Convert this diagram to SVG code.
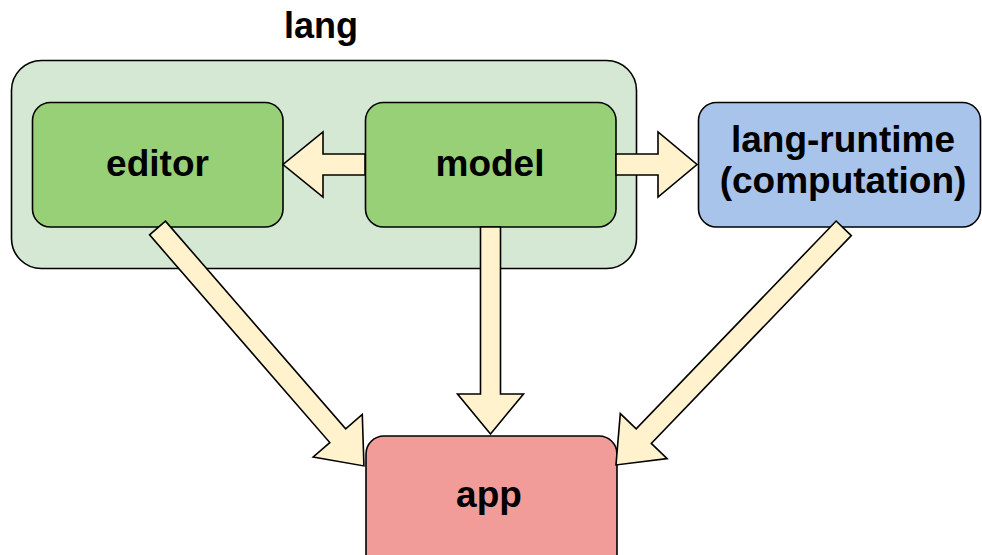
<svg xmlns="http://www.w3.org/2000/svg" width="982" height="555" viewBox="0 0 982 555">
<style>
.box{stroke:#000;stroke-width:1.6}
.lbl{font-family:"Liberation Sans",Arial,Helvetica,sans-serif;font-weight:bold;font-size:37px;text-anchor:middle;fill:#000}
.arr{fill:#fff2cc;stroke:#000;stroke-width:1.6;stroke-linejoin:miter}
</style>
<defs>
<polygon id="a315" points="0,-10.5 275,-10.5 275,-32.5 315,0 275,32.5 275,10.5 0,10.5"/>
<polygon id="a328" points="0,-10.5 288.4,-10.5 288.4,-32.5 328.4,0 288.4,32.5 288.4,10.5 0,10.5"/>
</defs>
<rect width="982" height="555" fill="#fff"/>
<g id="lang">
<rect class="box" x="11.5" y="60.5" width="625" height="208" rx="30" fill="#d5e8d4"/>
<text class="lbl" x="321" y="38" style="font-size:36px">lang</text>
</g>
<g id="editor">
<rect class="box" x="32.5" y="102.5" width="250.5" height="124.5" rx="18" fill="#97d077"/>
<text class="lbl" x="157.5" y="176">editor</text>
</g>
<g id="model">
<rect class="box" x="365.5" y="102.5" width="250.5" height="124.5" rx="18" fill="#97d077"/>
<text class="lbl" x="490" y="176">model</text>
</g>
<g id="lang-runtime">
<rect class="box" x="698.5" y="102.5" width="282" height="124.5" rx="18" fill="#a9c4eb"/>
<text class="lbl" x="843" y="152">lang-runtime</text>
<text class="lbl" x="843" y="193">(computation)</text>
</g>
<g id="app">
<rect class="box" x="366" y="436" width="251" height="140" rx="18" fill="#f19c99"/>
<text class="lbl" x="489" y="507">app</text>
</g>
<g id="connectors">
<polygon class="arr" points="365,154 323,154 323,132 283,164.5 323,197 323,175 365,175"/>
<polygon class="arr" points="616,154 658,154 658,132 697,164.5 658,197 658,175 616,175"/>
<polygon class="arr" points="480.5,227 480.5,394 457.5,394 490.5,434 523.5,394 500.5,394 500.5,227"/>
<use href="#a315" class="arr" transform="translate(157.5,228) rotate(49.05)"/>
<use href="#a328" class="arr" transform="translate(843.7,228.3) rotate(133.9)"/>
</g>
</svg>
